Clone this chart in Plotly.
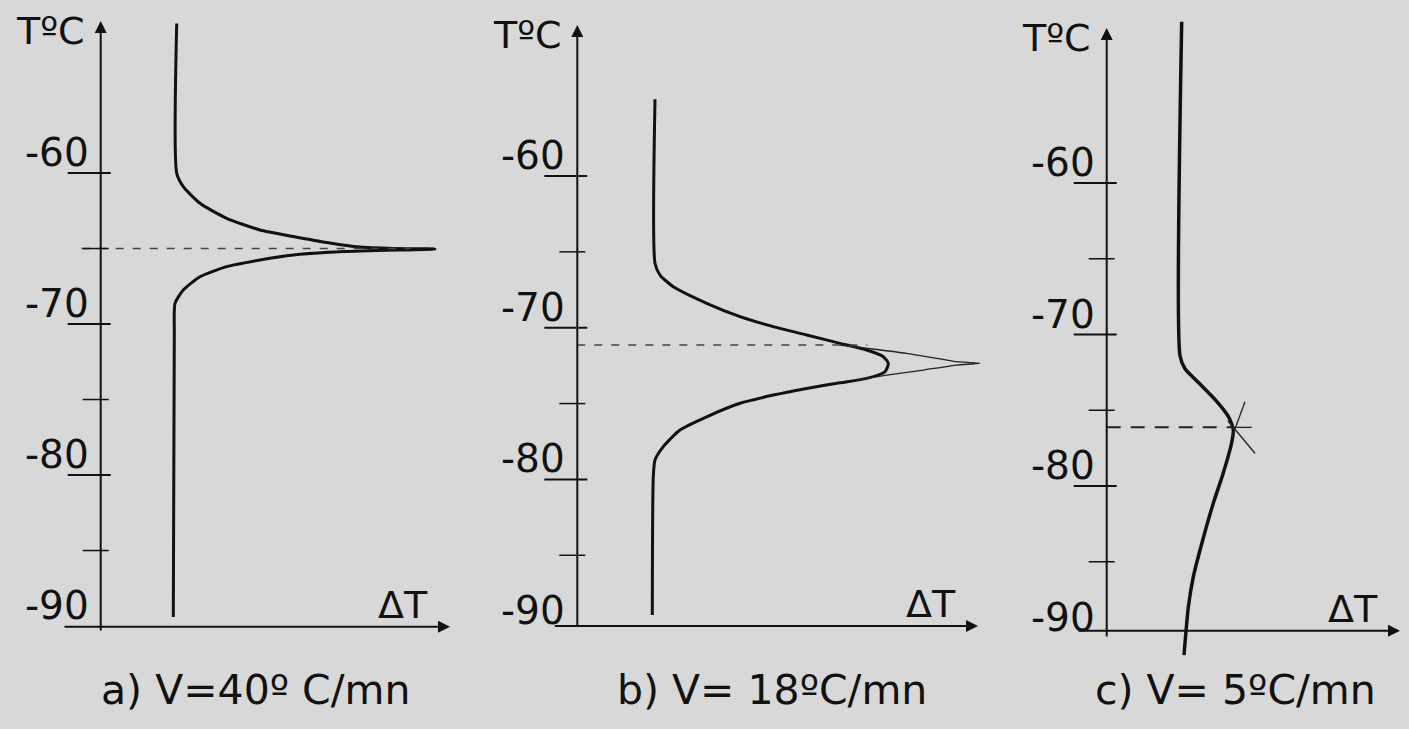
import plotly.graph_objects as go

W, H = 1409, 729

# ---------------- data ----------------
major_ticks = [-60, -70, -80, -90]
major_labels = ["-60", "-70", "-80", "-90"]
minor_ticks = [-65, -75, -85]

# panel a : V = 40 °C/mn
a_T = [-50.1, -60.0, -60.9, -62.0, -63.0, -63.77, -64.2, -64.6, -64.9, -64.99, -65.03,
       -65.2, -65.43, -65.76, -66.2, -66.87, -67.75, -68.63, -70.6, -89.4]
a_dT = [7.6, 7.6, 8.26, 9.93, 12.6, 15.93, 19.26, 22.6, 25.93, 29.26, 33.43,
        24.26, 19.26, 15.93, 12.6, 9.93, 8.26, 7.43, 7.36, 7.26]
a_onset_T = -65.0

# panel b : V = 18 °C/mn
b_T = [-54.94, -65.75, -66.53, -67.3, -68.39, -69.27, -69.93, -70.48, -71.03, -71.47, -71.91,
       -72.35, -72.9, -73.34, -73.63, -74.0, -74.44, -74.98, -75.87, -76.74, -77.84, -78.72,
       -79.82, -88.94]
b_dT = [7.77, 7.77, 8.27, 9.6, 12.94, 16.27, 19.6, 22.94, 26.27, 28.94, 30.6,
        31.1, 30.77, 28.94, 26.27, 22.94, 19.6, 16.27, 12.94, 10.27, 8.6, 7.77,
        7.6, 7.5]
b_extrap_T = [-71.14, -71.69, -72.24, -72.35, -72.46, -72.79, -73.12, -73.45]
b_extrap_dT = [26.27, 32.94, 37.94, 40.27, 37.94, 34.6, 30.94, 27.94]
b_onset_T = -71.14

# panel c : V = 5 °C/mn
c_T = [-49.35, -71.4, -72.26, -73.27, -74.41, -75.41, -76.27, -77.13, -79.14, -81.14,
       -83.43, -86.0, -88.01, -91.16]
c_dT = [7.5, 7.33, 7.83, 9.33, 11.0, 12.16, 12.66, 12.5, 11.66, 10.66,
        9.66, 8.66, 8.16, 7.73]
c_onset_T = -76.13
c_tan1_T = [-74.44, -76.77]
c_tan1_dT = [13.83, 12.53]
c_tan2_T = [-75.71, -77.84]
c_tan2_dT = [12.13, 14.83]

captions = ["a) V=40º C/mn", "b) V= 18ºC/mn", "c) V= 5ºC/mn"]

# ---------------- layout geometry ----------------
panels = [
    dict(dom=(0, 470), xr=(-10.07, 36.93), yr=(-96.82, -48.54), xaxisT=-90.05,
         yaxis_top=-49.93, yaxis_bot=-90.4, xaxis_left=-3.77, xaxis_right=34.93, cap_x=255),
    dict(dom=(470, 1000), xr=(-10.73, 42.27), yr=(-96.45, -48.40), xaxisT=-89.66,
         yaxis_top=-50.05, yaxis_bot=-89.8, xaxis_left=-2.4, xaxis_right=40.07, cap_x=772),
    dict(dom=(1000, 1409), xr=(-10.67, 30.23), yr=(-96.04, -47.92), xaxisT=-89.55,
         yaxis_top=-49.77, yaxis_bot=-90.03, xaxis_left=-2.97, xaxis_right=29.33, cap_x=1235),
]

FONT = "DejaVu Sans"
BG = "#d8d8d8"
INK = "#111111"

fig = go.Figure()
layout = dict(width=W, height=H, margin=dict(l=0, r=0, t=0, b=0), autosize=False,
              paper_bgcolor=BG, plot_bgcolor=BG, showlegend=False)
shapes, annos = [], []

for i, p in enumerate(panels):
    n = "" if i == 0 else str(i + 1)
    xa, ya = "x" + n, "y" + n
    layout["xaxis" + n] = dict(domain=[p["dom"][0] / W, p["dom"][1] / W], range=list(p["xr"]),
                               visible=False, anchor=ya, fixedrange=True)
    layout["yaxis" + n] = dict(domain=[0, 1], range=list(p["yr"]), visible=False,
                               anchor=xa, fixedrange=True)
    # axes with arrows
    annos.append(dict(x=0, y=p["yaxis_top"], ax=0, ay=p["yaxis_bot"], xref=xa, yref=ya,
                      axref=xa, ayref=ya, showarrow=True, arrowhead=2, arrowsize=1.2,
                      arrowwidth=2, arrowcolor=INK, text=""))
    annos.append(dict(x=p["xaxis_right"], y=p["xaxisT"], ax=p["xaxis_left"], ay=p["xaxisT"],
                      xref=xa, yref=ya, axref=xa, ayref=ya, showarrow=True, arrowhead=2,
                      arrowsize=1.2, arrowwidth=2, arrowcolor=INK, text=""))
    # ticks
    for t, lab in zip(major_ticks, major_labels):
        if t != -90:
            shapes.append(dict(type="line", xref=xa, yref=ya, x0=-3.3, x1=1.0, y0=t, y1=t,
                               line=dict(color=INK, width=2)))
        annos.append(dict(x=-1.0, y=t, xref=xa, yref=ya, text=lab, showarrow=False,
                          xanchor="right", yanchor="bottom", yshift=-4,
                          font=dict(family=FONT, size=39, color=INK)))
    for t in minor_ticks:
        shapes.append(dict(type="line", xref=xa, yref=ya, x0=-1.8, x1=0.8, y0=t, y1=t,
                           line=dict(color=INK, width=1.5)))
    # T°C label & ΔT label
    annos.append(dict(x=-5.0, y=p["yaxis_top"], xref=xa, yref=ya, text="TºC", showarrow=False,
                      xanchor="center", yanchor="middle", yshift=-10,
                      font=dict(family=FONT, size=38, color=INK)))
    annos.append(dict(x=p["xaxis_right"] - 4.7, y=p["xaxisT"], xref=xa, yref=ya, text="ΔT",
                      showarrow=False, xanchor="center", yanchor="bottom", yshift=-2,
                      font=dict(family=FONT, size=38, color=INK)))
    annos.append(dict(x=p["cap_x"] / W, y=1 - 690 / H,
                      xref="paper", yref="paper", text=captions[i], showarrow=False,
                      xanchor="center", yanchor="middle",
                      font=dict(family=FONT, size=41, color=INK)))

# curves
fig.add_trace(go.Scatter(x=a_dT, y=a_T, mode="lines", xaxis="x", yaxis="y",
                         line=dict(color=INK, width=3, shape="spline", smoothing=0.6)))
fig.add_trace(go.Scatter(x=[-1.9, 31], y=[a_onset_T, a_onset_T], mode="lines", xaxis="x", yaxis="y",
                         line=dict(color="#444", width=1.5, dash="8px,9px")))

fig.add_trace(go.Scatter(x=b_dT, y=b_T, mode="lines", xaxis="x2", yaxis="y2",
                         line=dict(color=INK, width=3, shape="spline", smoothing=0.6)))
fig.add_trace(go.Scatter(x=b_extrap_dT, y=b_extrap_T, mode="lines", xaxis="x2", yaxis="y2",
                         line=dict(color="#222", width=1.3, shape="spline", smoothing=0.4)))
fig.add_trace(go.Scatter(x=[0, 29], y=[b_onset_T, b_onset_T], mode="lines", xaxis="x2", yaxis="y2",
                         line=dict(color="#444", width=1.5, dash="8px,9px")))

fig.add_trace(go.Scatter(x=c_dT, y=c_T, mode="lines", xaxis="x3", yaxis="y3",
                         line=dict(color=INK, width=3.5, shape="spline", smoothing=0.6)))
fig.add_trace(go.Scatter(x=[0, 12.6], y=[c_onset_T, c_onset_T], mode="lines", xaxis="x3", yaxis="y3",
                         line=dict(color="#222", width=2, dash="14px,10px")))
fig.add_trace(go.Scatter(x=[12.6, 14.5], y=[c_onset_T, c_onset_T], mode="lines", xaxis="x3", yaxis="y3",
                         line=dict(color="#222", width=1.3)))
fig.add_trace(go.Scatter(x=c_tan1_dT, y=c_tan1_T, mode="lines", xaxis="x3", yaxis="y3",
                         line=dict(color="#222", width=1.3)))
fig.add_trace(go.Scatter(x=c_tan2_dT, y=c_tan2_T, mode="lines", xaxis="x3", yaxis="y3",
                         line=dict(color="#222", width=1.3)))

layout["shapes"] = shapes
layout["annotations"] = annos
fig.update_layout(**layout)
fig.write_html(
    "out.html",
    config={"displayModeBar": False, "staticPlot": True},
    post_script="document.body.style.margin='0';document.body.style.background='" + BG + "';"
                "document.body.style.overflow='hidden';",
)
